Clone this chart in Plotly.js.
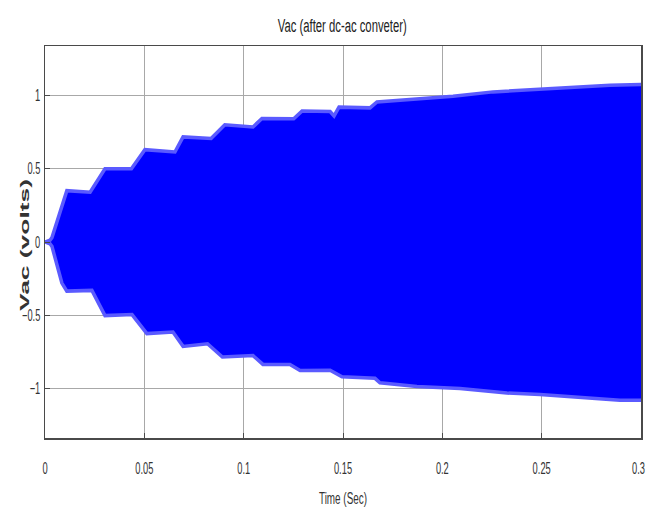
<!DOCTYPE html>
<html>
<head>
<meta charset="utf-8">
<script src="https://cdn.plot.ly/plotly-3.0.1.min.js"></script>
<style>html,body{margin:0;padding:0;background:#fff;}#chart{width:647px;height:509px;}</style>
</head>
<body>
<div id="chart"></div>
<script>
// Upper envelope of Vac (volts) vs time (s)
const timeUpper = [0, 0.0025, 0.0035, 0.0075, 0.011, 0.0227, 0.0302, 0.0435, 0.0503, 0.0654, 0.0695, 0.0836, 0.0905, 0.1047, 0.1092, 0.1252, 0.1294, 0.1435, 0.1455, 0.148, 0.1636, 0.1671, 0.1872, 0.2054, 0.2255, 0.2477, 0.2643, 0.2844, 0.3];
const vacUpper = [0, 0.012, 0.03, 0.2, 0.35, 0.34, 0.5, 0.5, 0.63, 0.614, 0.717, 0.706, 0.8, 0.785, 0.842, 0.84, 0.894, 0.89, 0.86, 0.92, 0.915, 0.955, 0.975, 0.995, 1.024, 1.04, 1.05, 1.07, 1.074];
// Lower envelope
const timeLower = [0, 0.0025, 0.0035, 0.0085, 0.011, 0.0236, 0.0302, 0.0438, 0.0513, 0.0644, 0.0695, 0.0818, 0.0893, 0.1047, 0.1097, 0.1233, 0.1284, 0.1435, 0.1495, 0.1661, 0.1686, 0.1872, 0.2089, 0.2325, 0.2492, 0.2728, 0.2894, 0.3];
const vacLower = [0, -0.012, -0.03, -0.28, -0.335, -0.33, -0.502, -0.495, -0.625, -0.614, -0.712, -0.694, -0.785, -0.775, -0.835, -0.835, -0.876, -0.875, -0.92, -0.93, -0.96, -0.985, -1.0, -1.03, -1.04, -1.065, -1.08, -1.08];

const xTickVals = [0, 0.05, 0.1, 0.15, 0.2, 0.25, 0.3];
const yTickVals = [-1, -0.5, 0, 0.5, 1];

const titleText = 'Vac (after dc-ac conveter)';
const xTitle = 'Time (Sec)';
const yTitle = 'Vac (volts)';

const sans = '"Liberation Sans", Arial, sans-serif';

const traces = [
  {x: timeUpper, y: vacUpper, mode: 'lines', line: {color: '#5a5aff', width: 3.5}, hoverinfo: 'skip', showlegend: false},
  {x: timeLower, y: vacLower, mode: 'lines', fill: 'tonexty', fillcolor: '#0000ff', line: {color: '#5a5aff', width: 3.5}, hoverinfo: 'skip', showlegend: false}
];

const axisCommon = {
  showgrid: true, gridcolor: '#a8a8a8', gridwidth: 1,
  zeroline: false, showline: true, linecolor: '#4a4a4a', linewidth: 1.5, mirror: true,
  ticks: 'inside', ticklen: 5, tickcolor: '#4a4a4a',
  ticklabeloverflow: 'allow',
  tickfont: {family: sans, size: 16, color: '#333'}
};

const layout = {
  width: 647, height: 509,
  margin: {l: 45, r: 6, t: 46, b: 71},
  paper_bgcolor: '#fff', plot_bgcolor: '#fff',
  title: {text: titleText, x: 0.529, xanchor: 'center', y: 0.949, yanchor: 'middle', font: {family: sans, size: 18, color: '#222'}},
  xaxis: Object.assign({}, axisCommon, {
    range: [0, 0.3], tickmode: 'array', tickvals: xTickVals, ticklabelstandoff: 15,
    title: {text: xTitle, font: {family: sans, size: 16, color: '#333'}, standoff: 17}
  }),
  yaxis: Object.assign({}, axisCommon, {
    range: [-1.337, 1.337], tickmode: 'array', tickvals: yTickVals,
    title: {text: yTitle, font: {family: sans, size: 13, color: '#333', weight: 'bold'}, standoff: 4}
  }),
  showlegend: false
};

Plotly.newPlot('chart', traces, layout, {displayModeBar: false, staticPlot: true}).then(function (gd) {
  function squeeze(el, f) {
    const w = el.getComputedTextLength() * f;
    el.setAttribute('textLength', w.toFixed(1));
    el.setAttribute('lengthAdjust', 'spacingAndGlyphs');
    return w;
  }
  gd.querySelectorAll('.ytick text').forEach(function (el) { squeeze(el, 0.58); });
  const xticks = gd.querySelectorAll('.xtick text');
  xticks.forEach(function (el, i) {
    squeeze(el, 0.58);
    if (i === xticks.length - 1) {
      el.setAttribute('text-anchor', 'end');
      el.style.textAnchor = 'end';
      el.setAttribute('dx', '4');
    }
  });
  const gt = gd.querySelector('.gtitle');
  if (gt) { gt.setAttribute('textLength', 129); gt.setAttribute('lengthAdjust', 'spacingAndGlyphs'); }
  const xt = gd.querySelector('.xtitle');
  if (xt) { xt.setAttribute('textLength', 48); xt.setAttribute('lengthAdjust', 'spacingAndGlyphs'); }
  const yt = gd.querySelector('.ytitle');
  if (yt) {
    yt.setAttribute('x', 18); yt.setAttribute('y', 245);
    yt.setAttribute('transform', 'rotate(-90,18,245)');
    yt.setAttribute('textLength', 132); yt.setAttribute('lengthAdjust', 'spacingAndGlyphs');
  }
});
</script>
</body>
</html>
